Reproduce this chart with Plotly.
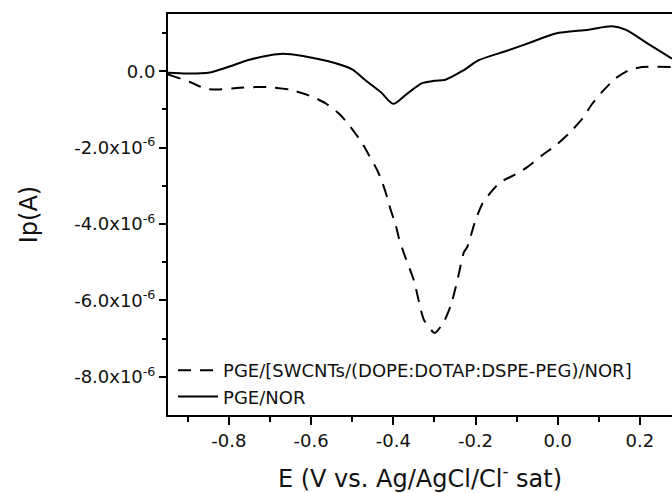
import plotly.graph_objects as go

# PGE/[SWCNTs/(DOPE:DOTAP:DSPE-PEG)/NOR] (dashed)
e_lip = [-0.948, -0.895, -0.858, -0.83, -0.773, -0.708, -0.652, -0.596, -0.563, -0.528,
         -0.504, -0.475, -0.459, -0.439, -0.427, -0.414, -0.406, -0.394, -0.386, -0.374,
         -0.350, -0.325, -0.299, -0.277, -0.260, -0.244, -0.228, -0.220, -0.200, -0.183,
         -0.159, -0.139, -0.103, -0.074, -0.038, -0.005, 0.027, 0.060, 0.084, 0.108,
         0.140, 0.173, 0.205, 0.278]
i_lip = [-0.08, -0.28, -0.45, -0.48, -0.43, -0.41, -0.48, -0.67, -0.85, -1.15,
         -1.46, -1.89, -2.20, -2.59, -2.90, -3.33, -3.64, -4.03, -4.38, -4.77,
         -5.47, -6.52, -6.85, -6.56, -6.13, -5.47, -4.73, -4.60, -3.90, -3.46,
         -3.12, -2.90, -2.70, -2.51, -2.20, -1.94, -1.63, -1.24, -0.85, -0.54,
         -0.19, 0.03, 0.11, 0.11]

# PGE/NOR (solid)
e_nor = [-0.948, -0.90, -0.846, -0.80, -0.75, -0.70, -0.669, -0.62, -0.54, -0.50,
         -0.467, -0.43, -0.40, -0.37, -0.33, -0.30, -0.273, -0.23, -0.192, -0.12,
         -0.06, -0.005, 0.075, 0.132, 0.165, 0.22, 0.278]
i_nor = [-0.04, -0.06, -0.03, 0.12, 0.30, 0.42, 0.46, 0.40, 0.21, 0.05,
         -0.24, -0.55, -0.85, -0.62, -0.31, -0.25, -0.22, 0.02, 0.29, 0.55,
         0.78, 0.99, 1.09, 1.18, 1.09, 0.72, 0.33]

scale = 1e-6
y_major = [0, -2e-6, -4e-6, -6e-6, -8e-6]
y_major_text = ["0.0", "-2.0x10<sup>-6</sup>", "-4.0x10<sup>-6</sup>",
                "-6.0x10<sup>-6</sup>", "-8.0x10<sup>-6</sup>"]
y_minor = [1e-6, -1e-6, -3e-6, -5e-6, -7e-6]
x_major = [-0.8, -0.6, -0.4, -0.2, 0.0, 0.2]
x_major_text = ["-0.8", "-0.6", "-0.4", "-0.2", "0.0", "0.2"]
x_minor = [-0.9, -0.7, -0.5, -0.3, -0.1, 0.1]

FONT = "DejaVu Sans, Liberation Sans, Arial, sans-serif"

fig = go.Figure()
fig.add_trace(go.Scatter(
    x=e_lip, y=[v * scale for v in i_lip], mode="lines",
    name="PGE/[SWCNTs/(DOPE:DOTAP:DSPE-PEG)/NOR]",
    line=dict(color="black", width=2, dash="13px,9px", shape="spline", smoothing=0.6)))
fig.add_trace(go.Scatter(
    x=e_nor, y=[v * scale for v in i_nor], mode="lines", name="PGE/NOR",
    line=dict(color="black", width=2, shape="spline", smoothing=0.8)))

fig.update_layout(
    width=672, height=493,
    margin=dict(l=168, r=0, t=14, b=78),
    paper_bgcolor="white", plot_bgcolor="white",
    font=dict(family=FONT, size=16, color="#111"),
    showlegend=True,
    legend=dict(x=0.01, y=0.0, xanchor="left", yanchor="bottom",
                bgcolor="rgba(0,0,0,0)", font=dict(size=18, family=FONT),
                tracegroupgap=0, itemwidth=40, borderwidth=0),
)
fig.update_xaxes(
    range=[-0.948, 0.278], showgrid=False, zeroline=False,
    showline=True, linecolor="black", linewidth=2, mirror=True,
    tickmode="array", tickvals=x_major, ticktext=x_major_text,
    ticks="outside", ticklen=8, tickwidth=1.5, tickcolor="black",
    minor=dict(tickmode="array", tickvals=x_minor, ticks="outside", ticklen=5,
               tickwidth=1.5, tickcolor="black"),
    tickfont=dict(size=18),
    title=dict(text="E (V vs. Ag/AgCl/Cl<sup>-</sup> sat)", font=dict(size=24), standoff=22),
)
fig.update_yaxes(
    range=[-9.0e-6, 1.5e-6], showgrid=False, zeroline=False,
    showline=True, linecolor="black", linewidth=2, mirror=False,
    tickmode="array", tickvals=y_major, ticktext=y_major_text,
    ticks="outside", ticklen=7, tickwidth=1.5, tickcolor="black",
    minor=dict(tickmode="array", tickvals=y_minor, ticks="outside", ticklen=4,
               tickwidth=1.5, tickcolor="black"),
    tickfont=dict(size=18),
    title=dict(text="Ip(A)", font=dict(size=24), standoff=30),
)

fig.write_html("out.html")
